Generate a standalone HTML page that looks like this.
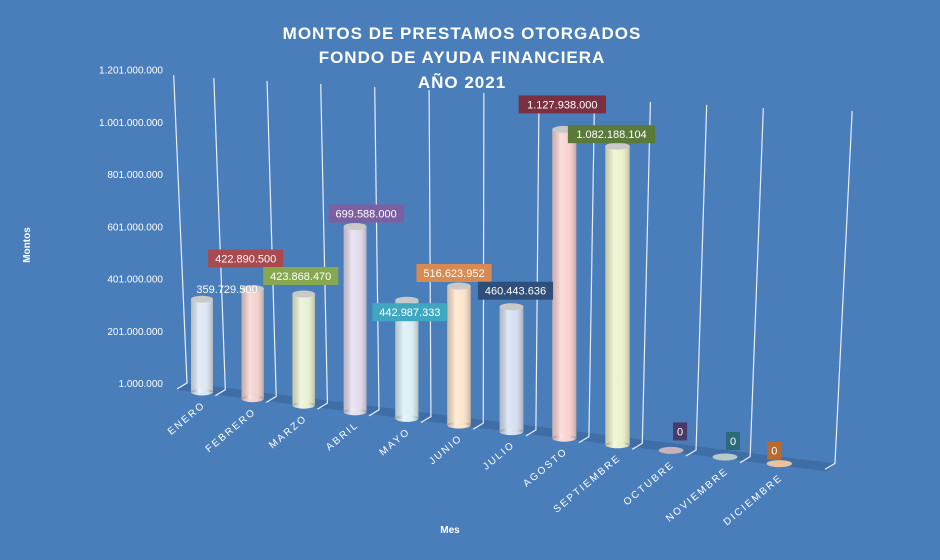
<!DOCTYPE html>
<html><head><meta charset="utf-8"><style>
body{margin:0;background:#4a7ebb;}
svg{display:block;font-family:"Liberation Sans","Noto Sans CJK JP",sans-serif;}
</style></head><body>
<svg id="chart" width="940" height="560" viewBox="0 0 940 560">
<defs>
<linearGradient id="shade" x1="0" x2="1" y1="0" y2="0">
<stop offset="0" stop-color="#000" stop-opacity="0.18"/>
<stop offset="0.35" stop-color="#fff" stop-opacity="0.25"/>
<stop offset="0.6" stop-color="#fff" stop-opacity="0"/>
<stop offset="1" stop-color="#000" stop-opacity="0.22"/>
</linearGradient>
</defs>
<rect width="940" height="560" fill="#4a7ebb"/>
<g fill="#fff" font-weight="bold" font-size="17" text-anchor="middle" letter-spacing="1">
<text x="462" y="39">MONTOS  DE PRESTAMOS  OTORGADOS</text>
<text x="462" y="63">FONDO DE AYUDA FINANCIERA</text>
<text x="462" y="88">AÑO 2021</text>
</g>
<text x="30" y="245" fill="#fff" font-size="10" font-weight="bold" text-anchor="middle" transform="rotate(-90 30 245)">Montos</text>
<text x="450" y="533" fill="#fff" font-size="10" font-weight="bold" text-anchor="middle">Mes</text>
<g id="floor"></g><g id="grid"></g><g id="yticks"></g><g id="bars"></g><g id="xlabels"></g><g id="labels"></g>
</svg>
<script>
const categories=["ENERO","FEBRERO","MARZO","ABRIL","MAYO","JUNIO","JULIO","AGOSTO","SEPTIEMBRE","OCTUBRE","NOVIEMBRE","DICIEMBRE"];
const values=[359729500,422890500,423868470,699588000,442987333,516623952,460443636,1127938000,1082188104,0,0,0];
const valueLabels=["359.729.500","422.890.500","423.868.470","699.588.000","442.987.333","516.623.952","460.443.636","1.127.938.000","1.082.188.104","0","0","0"];
const yTicks=[1000000,201000000,401000000,601000000,801000000,1001000000,1201000000];
const yTickLabels=["1.000.000","201.000.000","401.000.000","601.000.000","801.000.000","1.001.000.000","1.201.000.000"];
const barColors=["#dde7f3","#f4d3ce","#ebf1d4","#e4ddee","#dbf1f6","#fde5cb","#d6e0f1","#f9d4d1","#eef3cd","#c7b3bc","#b9c9c9","#eac2a0"];
const boxColors=[null,"#a84a4f","#86a84e","#7b5fa0","#3fa8c0","#d88a50","#2f4f7a","#7a3040","#5a7a3a","#4a3a6a","#2a6a7a","#b86a30"];
const labelOffsets=[[25,-10],[-7,-30],[-3,-18],[11,-13],[3,12],[-5,-13],[4,-16],[-2,-25],[-6,-12],[9,-20],[8,-17],[-5,-14]];
const NS="http://www.w3.org/2000/svg";
function mk(tag,attrs,parent){const e=document.createElementNS(NS,tag);for(const k in attrs)e.setAttribute(k,attrs[k]);parent.appendChild(e);return e;}
function cx(i){return 202+i*50.5+i*i*0.18;}
function baseY(i){return 392+i*6.6;}
function scale(i){return 0.2586+i*0.0022;}
function yOf(i,v){return baseY(i)-(v-1000000)/1e6*scale(i);}
function bw(i){return 22+i*0.3;}
function bx(j){return j===0?187:(j===12?835:(cx(j-1)+cx(j))/2-2);}
function by(j){return 383+j*6.7;}
function topX(x){return x+(x-470)*0.047;}
// floor strip
const floor=document.getElementById('floor');
const f=mk('polygon',{points:`${bx(0)},${by(0)} ${bx(12)},${by(12)} ${bx(12)-8},${by(12)+8} ${bx(0)-10},${by(0)+7}`,fill:'#3f6ea6'},floor);


// gridlines
const grid=document.getElementById('grid');
for(let j=0;j<=12;j++){
 const x=bx(j),y=by(j);
 const l=mk('polyline',{points:`${topX(x)},${75+j*3} ${x},${y} ${x-10},${y+6}`,fill:'none',stroke:'#e8eef8','stroke-width':1.2},grid);
 
 
}
// y ticks (mapped at first category depth)
const yt=document.getElementById('yticks');
yTicks.forEach((v,k)=>{
 const t=mk('text',{x:163,y:yOf(0,v)-8+k*-0.5+3,fill:'#fff','font-size':10,'text-anchor':'end'},yt);
 t.textContent=yTickLabels[k];
 
 
});
// bars
const bars=document.getElementById('bars');
values.forEach((v,i)=>{
 const x=cx(i),b=baseY(i),w=bw(i),t=yOf(i,Math.max(v,1000000)),ry=3.5;
 const g=mk('g',{},bars);
 
 
 if(v>0){
  mk('ellipse',{cx:x,cy:b,rx:w/2,ry:ry,fill:barColors[i]},g);
  mk('rect',{x:x-w/2,y:t,width:w,height:b-t,fill:barColors[i]},g);
  mk('rect',{x:x-w/2,y:t,width:w,height:b-t,fill:'url(#shade)'},g);
  mk('ellipse',{cx:x,cy:b,rx:w/2,ry:ry,fill:'url(#shade)'},g);
  mk('ellipse',{cx:x,cy:t,rx:w/2,ry:ry,fill:'#c9c9c9'},g);
 } else {
  mk('ellipse',{cx:x,cy:b-1,rx:w/2,ry:ry,fill:barColors[i]},g);
 }
});
// x labels
const xl=document.getElementById('xlabels');
categories.forEach((c,i)=>{
 const x=cx(i)+4,y=baseY(i)+14;
 const t=mk('text',{x:x,y:y,fill:'#fff','font-size':10,'letter-spacing':2,'text-anchor':'end',transform:`rotate(-40 ${x} ${y})`},xl);
 t.textContent=c;
 
 
});
// data labels
const lb=document.getElementById('labels');
values.forEach((v,i)=>{
 const x=cx(i)+labelOffsets[i][0],y=yOf(i,Math.max(v,1000000))+labelOffsets[i][1];
 const s=valueLabels[i],w=s.length*6.1+8;
 const g=mk('g',{},lb);
 
 
 if(boxColors[i])mk('rect',{x:x-w/2,y:y-9,width:w,height:18,fill:boxColors[i]},g);
 const t=mk('text',{x:x,y:y+4,fill:'#fff','font-size':11,'text-anchor':'middle'},g);
 t.textContent=s;
});
</script>
</body></html>
